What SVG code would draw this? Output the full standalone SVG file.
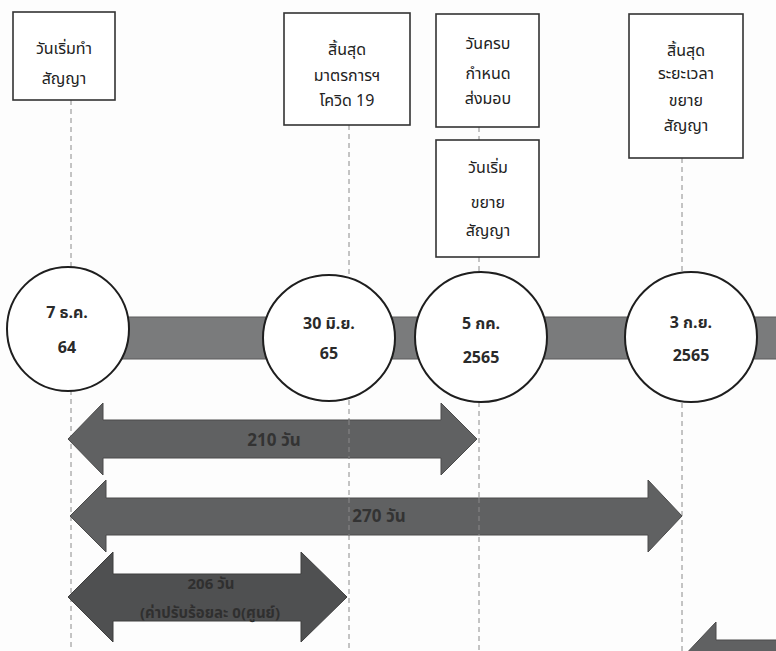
<svg xmlns="http://www.w3.org/2000/svg" width="776" height="651" viewBox="0 0 776 651">
<style>
text{font-family:"Noto Sans Thai","Noto Sans","DejaVu Sans","Liberation Sans",sans-serif;text-anchor:middle}
.box{fill:#fff;stroke:#333;stroke-width:1.6}
.bt{font-size:16px;fill:#222}
.circ{fill:#fff;stroke:#1e1e1e;stroke-width:2}
.ct{font-size:16px;font-weight:bold;fill:#2a2a2a}
.dash{stroke:#8a8a8a;stroke-width:1;stroke-dasharray:5 4;fill:none}
.bar{fill:#7a7b7c;stroke:#5c5c5c;stroke-width:1}
.arr{fill:#606162;stroke:#4a4a4a;stroke-width:1}
.arr3{fill:#4f5051;stroke:#3e3e3e;stroke-width:1}
.at{font-size:17px;font-weight:bold;fill:#333}
.at3{font-size:15px;font-weight:bold;fill:#2f2f2f}
</style>
<rect width="776" height="651" fill="#fdfdfd"/>
<g id="connectors">
<rect class="bar" x="110" y="317" width="680" height="42"/>
<line class="dash" x1="71" y1="100" x2="71" y2="268"/>
<line class="dash" x1="71" y1="390" x2="71" y2="651"/>
<line class="dash" x1="349" y1="125" x2="349" y2="276"/>
<line class="dash" x1="349" y1="400" x2="349" y2="651"/>
<line class="dash" x1="479" y1="127" x2="479" y2="140"/>
<line class="dash" x1="479" y1="257" x2="479" y2="272"/>
<line class="dash" x1="479" y1="402" x2="479" y2="651"/>
<line class="dash" x1="682" y1="158" x2="682" y2="272"/>
<line class="dash" x1="682" y1="403" x2="682" y2="651"/>
</g>
<g id="box-start">
<rect class="box" x="13" y="12" width="102" height="88"/>
<text class="bt" x="64" y="54">วันเริ่มทำ</text>
<text class="bt" x="64" y="84">สัญญา</text>
</g>
<g id="box-covid">
<rect class="box" x="284" y="13" width="126" height="112"/>
<text class="bt" x="347" y="55">สิ้นสุด</text>
<text class="bt" x="347" y="81">มาตรการฯ</text>
<text class="bt" x="347" y="106">โควิด 19</text>
</g>
<g id="box-due">
<rect class="box" x="436" y="14" width="103" height="113"/>
<text class="bt" x="488" y="49">วันครบ</text>
<text class="bt" x="488" y="79">กำหนด</text>
<text class="bt" x="488" y="104">ส่งมอบ</text>
</g>
<g id="box-extstart">
<rect class="box" x="436" y="140" width="103" height="117"/>
<text class="bt" x="488" y="173">วันเริ่ม</text>
<text class="bt" x="488" y="208">ขยาย</text>
<text class="bt" x="488" y="236">สัญญา</text>
</g>
<g id="box-extend">
<rect class="box" x="629" y="14" width="114" height="144"/>
<text class="bt" x="686" y="56">สิ้นสุด</text>
<text class="bt" x="686" y="79">ระยะเวลา</text>
<text class="bt" x="686" y="106">ขยาย</text>
<text class="bt" x="686" y="131">สัญญา</text>
</g>
<g id="date-1">
<ellipse class="circ" cx="68" cy="329" rx="61" ry="62"/>
<text class="ct" x="67" y="318">7 ธ.ค.</text>
<text class="ct" x="67" y="353">64</text>
</g>
<g id="date-2">
<ellipse class="circ" cx="329" cy="338" rx="66" ry="63"/>
<text class="ct" x="329" y="329">30 มิ.ย.</text>
<text class="ct" x="329" y="359">65</text>
</g>
<g id="date-3">
<ellipse class="circ" cx="481" cy="337" rx="66" ry="65"/>
<text class="ct" x="481" y="329">5 กค.</text>
<text class="ct" x="481" y="363">2565</text>
</g>
<g id="date-4">
<ellipse class="circ" cx="691" cy="337" rx="66" ry="65"/>
<text class="ct" x="691" y="328">3 ก.ย.</text>
<text class="ct" x="691" y="361">2565</text>
</g>
<g id="span-210">
<polygon class="arr" points="68,439 103,403 103,420 441,420 441,403 477,439 441,475 441,458 103,458 103,475"/>
<text class="at" x="274" y="446">210 วัน</text>
</g>
<g id="span-270">
<polygon class="arr" points="70,516 106,480 106,498 648,498 648,480 682,516 648,552 648,535 106,535 106,552"/>
<text class="at" x="379" y="522">270 วัน</text>
</g>
<g id="span-206">
<polygon class="arr3" points="68,597 113,552 113,574 301,574 301,552 347,597 301,642 301,621 113,621 113,642"/>
<text class="at3" x="211" y="589">206 วัน</text>
<text class="at3" x="210" y="618">(ค่าปรับร้อยละ 0(ศูนย์)</text>
</g>
<g id="span-next">
<polygon class="arr" points="682,658 716,622 716,640 790,640 790,676 716,676 716,694"/>
</g>
<g id="dash-over">
<line class="dash" x1="349" y1="420" x2="349" y2="458"/>
<line class="dash" x1="349" y1="498" x2="349" y2="535"/>
<line class="dash" x1="479" y1="498" x2="479" y2="535"/>
</g>
</svg>
